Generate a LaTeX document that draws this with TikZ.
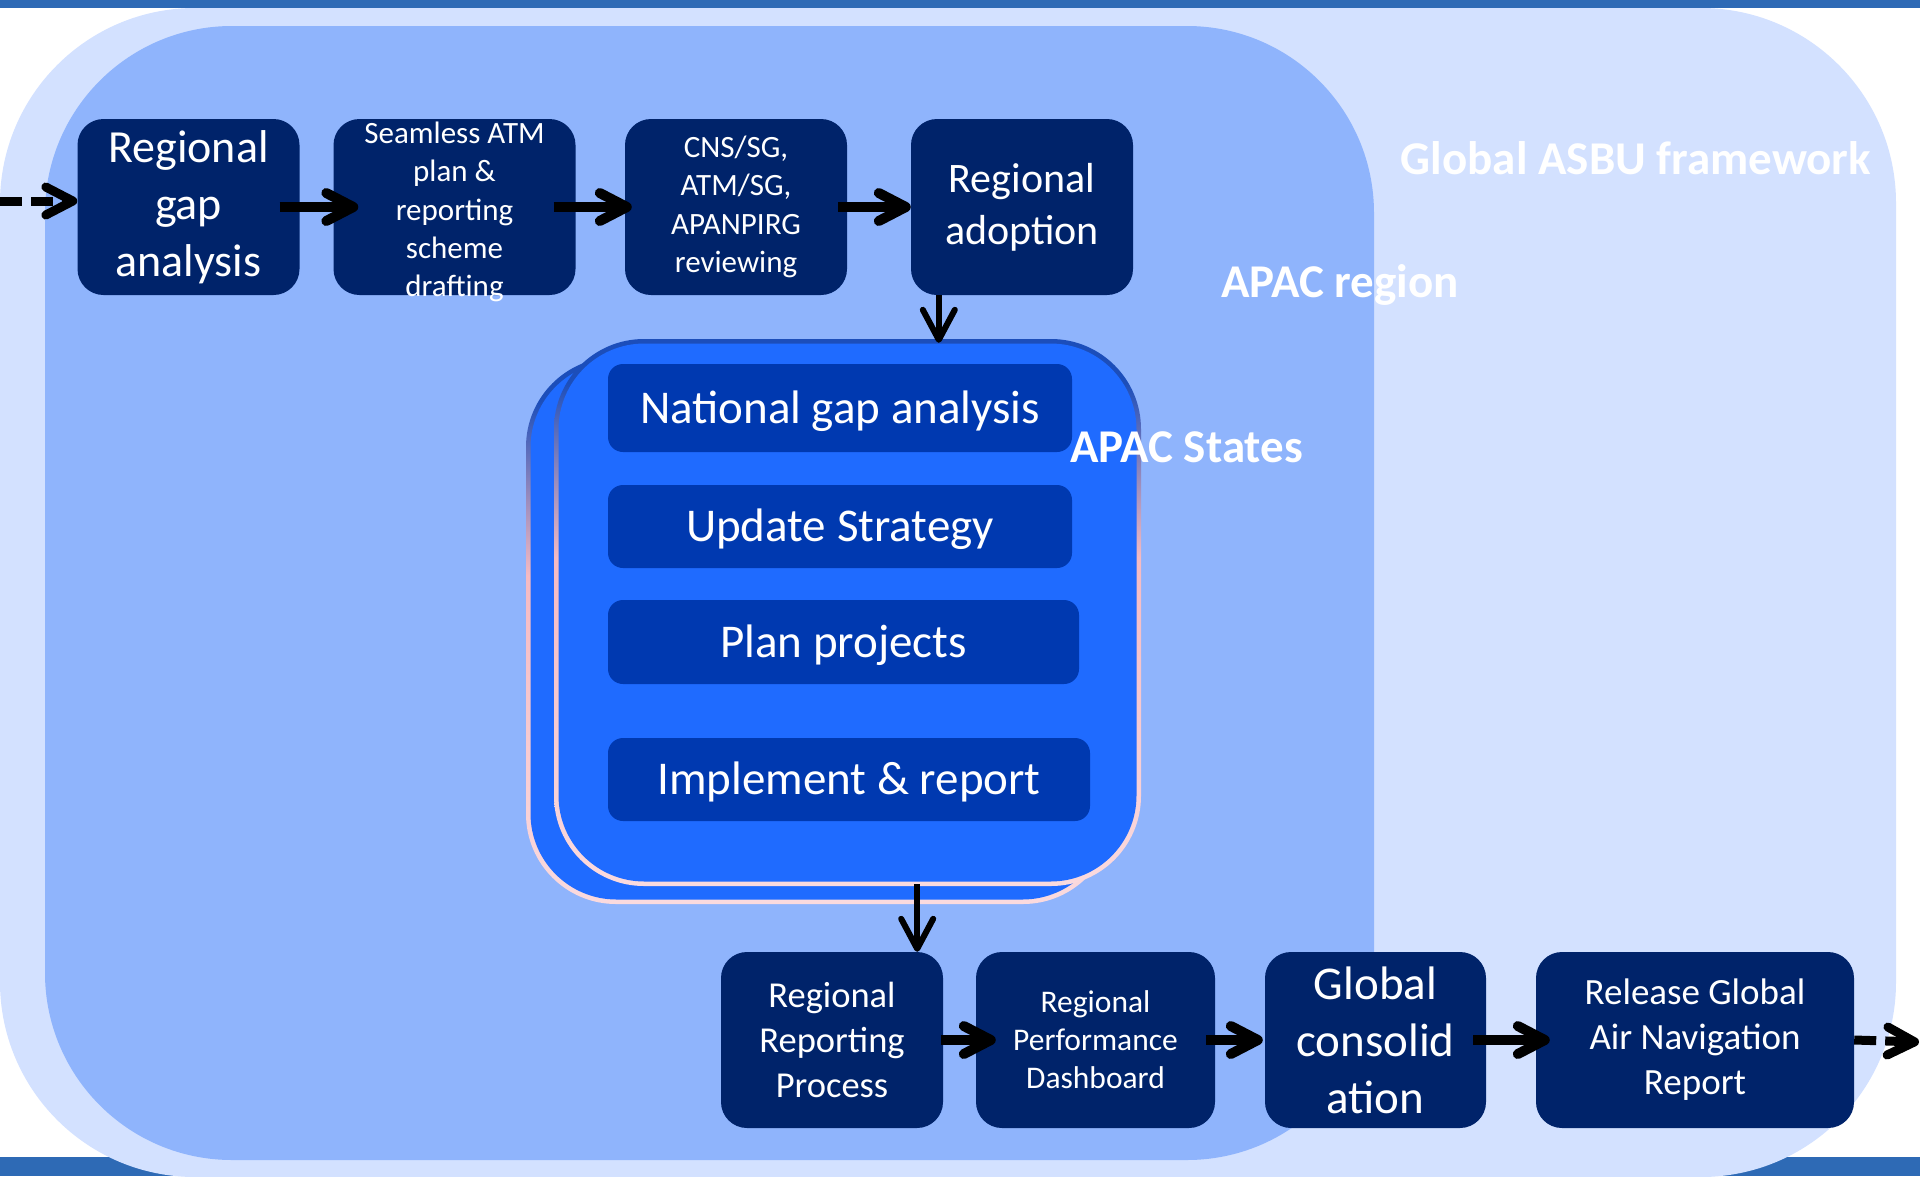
\documentclass[tikz,border=0pt]{standalone}
\usepackage{fontspec}
\setmainfont{Carlito}
\usetikzlibrary{arrows.meta}
\definecolor{barBlue}{RGB}{46,106,181}
\definecolor{globalBg}{RGB}{211,225,255}
\definecolor{apacBg}{RGB}{143,180,252}
\definecolor{stateBlue}{RGB}{31,107,255}
\definecolor{taskBlue}{RGB}{0,57,176}
\definecolor{boxNavy}{RGB}{0,35,106}
\definecolor{edgeBlue}{RGB}{28,78,186}
\definecolor{edgeMid}{RGB}{155,140,188}
\definecolor{edgePink}{RGB}{245,186,194}
\definecolor{edgeLight}{RGB}{250,218,222}
\pgfdeclareverticalshading{stateEdge}{100bp}{color(0bp)=(edgeLight); color(25bp)=(edgeLight); color(55bp)=(edgePink); color(62bp)=(edgeMid); color(71bp)=(edgeBlue); color(100bp)=(edgeBlue)}
\tikzset{
    navy/.style={fill=boxNavy, rounded corners=26pt, minimum width=222pt, minimum height=176pt, inner sep=0pt, text=white, align=center},
    task/.style={fill=taskBlue, rounded corners=15pt, inner sep=0pt, text=white, text height=36pt, text depth=6pt, font=\fontsize{47}{57}\selectfont},
    rim/.style={shade, shading=stateEdge, rounded corners=90pt, inner sep=0pt, minimum width=587pt, minimum height=547pt},
    panel/.style={fill=stateBlue, rounded corners=86pt, inner sep=0pt, minimum width=578pt, minimum height=538pt},
    tag/.style={text=white, inner sep=0pt, font=\bfseries\fontsize{47}{57}\selectfont},
    flow/.style={line width=10pt, -{Straight Barb[length=27pt,width=28pt,round]}},
    drop/.style={line width=6pt, -{Straight Barb[length=30pt,width=32pt,round]}},
    loose/.style={flow, line width=9pt, dash pattern=on 22pt off 9pt}
}

\begin{document}
\begin{tikzpicture}[x=1pt,y=-1pt]
\useasboundingbox (0,0) rectangle (1920,1176);
\fill[white] (0,0) rectangle (1920,1176);
% bars and regions
\fill[barBlue] (0,0) rectangle (1920,8);
\fill[barBlue] (0,1157) rectangle (1920,1176);
\fill[globalBg, rounded corners=195pt] (0,8) rectangle (1896,1177);
\fill[apacBg, rounded corners=187pt] (45,26) rectangle (1374,1160);
% state panels
\node[rim] (back) at (819.5,630.5) {};
\node[panel] (backIn) at (back) {};
\node[rim] (front) at (847.5,612.5) {};
\node[panel] (frontIn) at (front) {};
\node[task, minimum width=464pt, minimum height=88pt] (nga) at (840,408) {National gap analysis};
\node[task, minimum width=464pt, minimum height=83pt] (ups) at (840,526.5) {Update Strategy};
\node[task, minimum width=471pt, minimum height=84pt] (plp) at (843.5,642) {Plan projects};
\node[task, minimum width=482pt, minimum height=83pt] (imr) at (849,779.5) {Implement \& report};
% labels
\node[tag, anchor=base] (asbu) at (1636,174) {Global ASBU framework};
\node[tag, anchor=base] (apacR) at (1340,297) {APAC region};
\node[tag, anchor=base west] (apacS) at (1070,462) {APAC States};
% top row
\node[navy, font=\fontsize{46}{57}\selectfont] (rga) at (188.5,207) {Regional\\gap\\analysis};
\node[navy, minimum width=242pt, label={[text=white, align=center, inner sep=0pt, yshift=-5pt, font=\fontsize{31}{38.3}\selectfont]center:{Seamless ATM\\plan \&\\reporting\\scheme\\drafting}}] (sap) at (454.5,207) {};
\node[navy, font=\fontsize{31}{38.5}\selectfont] (scr) at (736,207) {CNS/SG,\\ATM/SG,\\APANPIRG\\reviewing};
\node[navy, font=\fontsize{42}{52}\selectfont] (radop) at (1022,207) {Regional\\adoption};
% bottom row
\node[navy, font=\fontsize{36.5}{45}\selectfont] (rrp) at (832,1040) {Regional\\Reporting\\Process};
\node[navy, minimum width=239pt, font=\fontsize{31.5}{38}\selectfont] (rpd) at (1095.5,1040) {Regional\\Performance\\Dashboard};
\node[navy, minimum width=221pt, font=\fontsize{47}{57}\selectfont] (gc) at (1375.5,1040) {Global\\consolid\\ation};
\node[navy, minimum width=318pt, font=\fontsize{37}{45}\selectfont] (rel) at (1695,1040) {Release Global\\Air Navigation\\Report};
% connectors
\coordinate (inStart) at (0,201);
\coordinate (outEnd) at (1919,1042);
\draw[loose] (inStart) -- (inStart -| rga.west);
\draw[flow, shorten <=-20pt, shorten >=-25pt] (rga.east) -- (sap.west);
\draw[flow, shorten <=-22pt, shorten >=-7pt] (sap.east) -- (scr.west);
\draw[flow, shorten <=-9pt] (scr.east) -- (radop.west);
\path (radop.south west) ++(28,0) coordinate (adoptOut);
\draw[drop, shorten >=-4pt] (adoptOut) -- (adoptOut |- front.north);
\path (rrp.north east) ++(-26,0) coordinate (reportIn);
\draw[drop, shorten <=-2pt] (reportIn |- front.south) -- (reportIn);
\draw[flow, shorten <=-2pt, shorten >=-20pt] (rrp.east) -- (rpd.west);
\draw[flow, shorten <=-9pt, shorten >=2pt] (rpd.east) -- (gc.west);
\draw[flow, shorten <=-13pt, shorten >=-14pt] (gc.east) -- (rel.west);
\draw[loose] (rel.east) -- (outEnd);
\end{tikzpicture}
\end{document}
